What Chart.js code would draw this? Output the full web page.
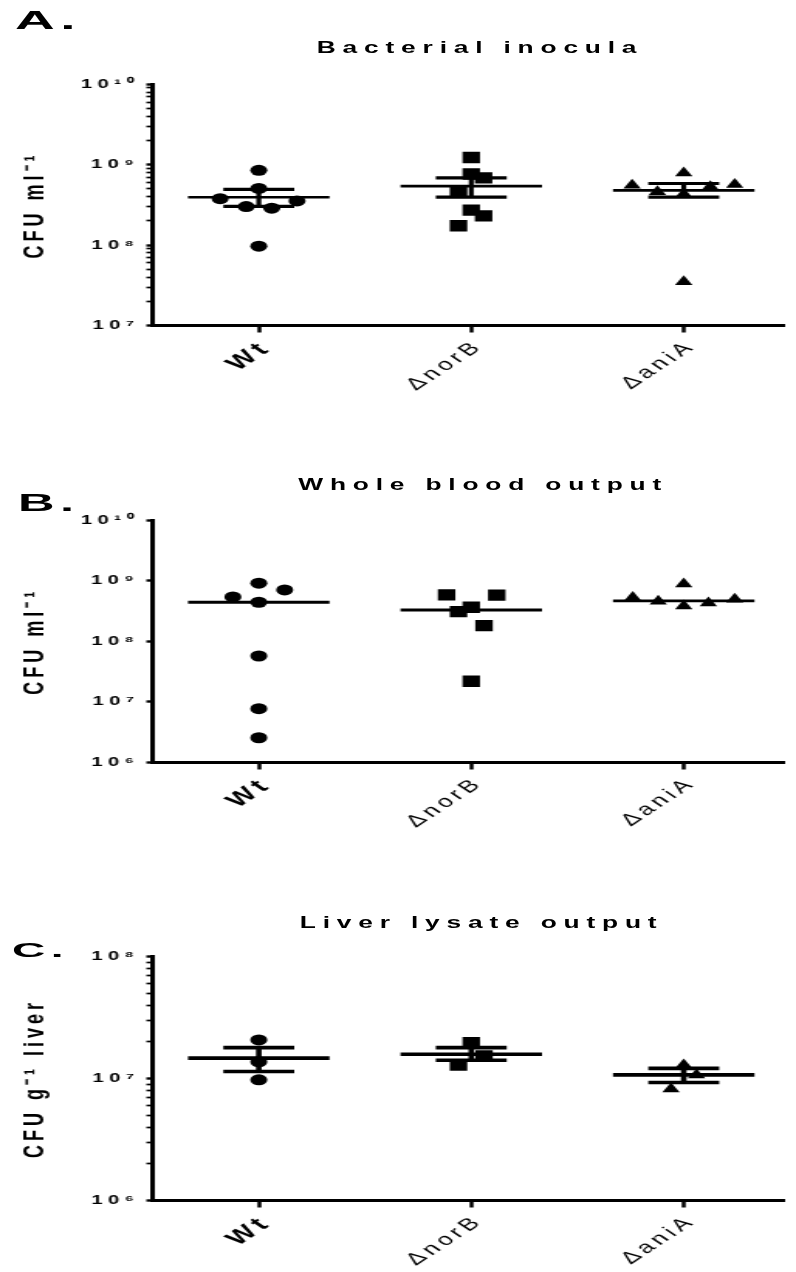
<!DOCTYPE html>
<html>
<head>
<meta charset="utf-8">
<script src="https://cdn.jsdelivr.net/npm/chart.js@4.4.1/dist/chart.umd.min.js"></script>
<style>
  html, body { margin:0; padding:0; background:#fff; }
  body { width:796px; height:1272px; position:relative; overflow:hidden; }
  #wrap { position:absolute; left:0; top:0; width:514px; height:1272px; transform:scaleX(1.5486); transform-origin:0 0; }
  #wrap canvas { position:absolute; left:0; }
  .title { position:absolute; font-family:"Liberation Sans", Arial, sans-serif; font-weight:bold; font-size:17px; line-height:17px; letter-spacing:4.4px; white-space:nowrap; color:#000; transform:translateX(-50%); }
  .panel { position:absolute; font-family:"Liberation Sans", Arial, sans-serif; font-weight:bold; color:#000; white-space:nowrap; transform-origin:0 0; transform:scaleX(2.2); letter-spacing:2.5px; }
</style>
</head>
<body>
<div id="wrap">
  <canvas id="cA" width="514" height="345" style="top:72px"></canvas>
  <canvas id="cB" width="514" height="345" style="top:505px"></canvas>
  <canvas id="cC" width="514" height="332" style="top:940px"></canvas>
  <div class="title" style="left:310px;top:39px">Bacterial inocula</div>
  <div class="title" style="left:312px;top:476px">Whole blood output</div>
  <div class="title" style="left:311px;top:914px">Liver lysate output</div>
</div>
<div class="panel" style="left:15px;top:8px;font-size:25px;line-height:25px">A.</div>
<div class="panel" style="left:18px;top:492px;font-size:23px;line-height:23px">B.</div>
<div class="panel" style="left:12px;top:939px;font-size:21px;line-height:21px">C.</div>
<script>
// ---------- data ----------
const categories = ['Wt', 'ΔnorB', 'ΔaniA'];

// Panel A: Bacterial inocula (CFU ml-1)
const aTickValues = [1e7, 1e8, 1e9, 1e10];
const aTickLabels = ['10⁷', '10⁸', '10⁹', '10¹⁰'];
const aWtValues   = [8.5e8, 5.07e8, 3.78e8, 3.01e8, 2.88e8, 3.54e8, 9.7e7];
const aWtOffsets  = [0, 0, -0.182, -0.059, 0.061, 0.180, 0];
const aNorBValues = [1.23e9, 7.66e8, 6.84e8, 4.56e8, 2.72e8, 2.31e8, 1.74e8];
const aNorBOffsets= [0, 0, 0.058, -0.06, 0, 0.058, -0.06];
const aAniAValues = [5.56e8, 4.60e8, 7.89e8, 4.28e8, 5.30e8, 5.68e8, 3.50e7];
const aAniAOffsets= [-0.243, -0.124, 0, 0, 0.125, 0.24, 0];
const aMean  = [3.93e8, 5.41e8, 4.79e8];
const aUpper = [4.92e8, 6.84e8, 5.84e8];
const aLower = [3.04e8, 3.96e8, 3.96e8];

// Panel B: Whole blood output (CFU ml-1), median lines
const bTickValues = [1e6, 1e7, 1e8, 1e9, 1e10];
const bTickLabels = ['10⁶', '10⁷', '10⁸', '10⁹', '10¹⁰'];
const bWtValues   = [9.06e8, 7.03e8, 5.38e8, 4.40e8, 5.71e7, 7.73e6, 2.56e6];
const bWtOffsets  = [0, 0.122, -0.122, 0, 0, 0, 0];
const bNorBValues = [5.81e8, 5.76e8, 3.64e8, 3.08e8, 1.81e8, 2.19e7];
const bNorBOffsets= [-0.116, 0.12, 0, -0.06, 0.06, 0];
const bAniAValues = [5.25e8, 4.57e8, 8.83e8, 3.83e8, 4.29e8, 4.93e8];
const bAniAOffsets= [-0.24, -0.12, 0, 0, 0.116, 0.24];
const bMedian = [4.40e8, 3.28e8, 4.62e8];

// Panel C: Liver lysate output (CFU g-1 liver)
const cTickValues = [1e6, 1e7, 1e8];
const cTickLabels = ['10⁶', '10⁷', '10⁸'];
const cWtValues   = [2.07e7, 1.37e7, 9.75e6];
const cWtOffsets  = [0, 0, 0];
const cNorBValues = [1.97e7, 1.53e7, 1.29e7];
const cNorBOffsets= [0, 0.06, -0.06];
const cAniAValues = [1.29e7, 1.07e7, 8.2e6];
const cAniAOffsets= [0, 0.06, -0.06];
const cMean  = [1.47e7, 1.58e7, 1.07e7];
const cUpper = [1.79e7, 1.79e7, 1.21e7];
const cLower = [1.14e7, 1.41e7, 9.27e6];

// ---------- drawing ----------
const FONT = '"Liberation Sans", Arial, sans-serif';

function withSpacing(scale, method, px) {
  const proto = Object.getPrototypeOf(scale);
  scale[method] = function (...args) {
    const c = this.ctx; const prev = c.letterSpacing;
    c.letterSpacing = px;
    proto[method].apply(this, args);
    c.letterSpacing = prev;
  };
}
const spacingPlugin = {
  id: 'spacing',
  afterUpdate(chart) {
    const x = chart.scales.x, y = chart.scales.y;
    if (y && !y._spaced) {
      y._spaced = true;
      withSpacing(y, 'drawTitle', '4px');
      withSpacing(y, 'drawLabels', '3.5px');
      withSpacing(x, 'drawLabels', '3px');
    }
  }
};

function pointsOf(ci, values, offsets) {
  return values.map((v, k) => ({ x: ci + offsets[k], y: v }));
}
function centerLines(centers, hw) {
  const d = [];
  centers.forEach((m, i) => { d.push({ x: i - hw, y: m }, { x: i + hw, y: m }, { x: i, y: null }); });
  return d;
}
function errorBars(upper, lower, hw) {
  const d = [];
  upper.forEach((u, i) => {
    const l = lower[i];
    d.push({ x: i - hw, y: u }, { x: i + hw, y: u }, { x: i, y: null },
           { x: i, y: u }, { x: i, y: l }, { x: i, y: null },
           { x: i - hw, y: l }, { x: i + hw, y: l }, { x: i, y: null });
  });
  return d;
}
function isPow10(v) { const e = Math.round(Math.log10(v)); return Math.abs(v - Math.pow(10, e)) < 1e-6 * v; }

function makeChart(id, p) {
  const styles = ['circle', 'rect', 'triangle'];
  const radii = [5.5, 8, 6.5];
  const datasets = [];
  p.groups.forEach((g, i) => datasets.push({
    data: pointsOf(i, g[0], g[1]), pointStyle: styles[i], pointRadius: radii[i], pointHoverRadius: radii[i],
    pointBackgroundColor: '#000', pointBorderColor: '#000', pointBorderWidth: 0, showLine: false
  }));
  datasets.push({ data: centerLines(p.center, 0.333), showLine: true, borderColor: '#000', borderWidth: p.meanWidth,
    pointRadius: 0, pointHoverRadius: 0, spanGaps: false });
  if (p.upper) datasets.push({ data: errorBars(p.upper, p.lower, 0.167), showLine: true, borderColor: '#000',
    borderWidth: p.errWidth, pointRadius: 0, pointHoverRadius: 0, spanGaps: false });

  const minExp = Math.round(Math.log10(p.tickValues[0]));
  const maxExp = Math.round(Math.log10(p.tickValues[p.tickValues.length - 1]));

  new Chart(document.getElementById(id), {
    type: 'scatter',
    data: { datasets },
    options: {
      responsive: false, animation: false, devicePixelRatio: 1, events: [],
      layout: { padding: { top: p.padTop, right: 0, bottom: 0, left: 0 } },
      plugins: { legend: { display: false }, tooltip: { enabled: false }, title: { display: false } },
      scales: {
        x: {
          type: 'linear', min: -0.5, max: 2.47, bounds: 'data',
          afterBuildTicks: s => { s.ticks = categories.map((c, i) => ({ value: i })); },
          afterFit: s => { s.height = p.xHeight; },
          ticks: {
            autoSkip: false, minRotation: 45, maxRotation: 45, padding: 4, labelOffset: 5, color: '#000',
            callback: v => categories[v],
            font: c => c.index === 0 ? { size: 20, weight: 'bold', family: FONT } : { size: 17, weight: 'normal', family: FONT }
          },
          grid: { display: true, drawOnChartArea: false, drawTicks: true, tickLength: 7, tickWidth: 2.5, tickColor: '#000' },
          border: { display: true, width: 3, color: '#000' }
        },
        y: {
          type: 'logarithmic', min: p.tickValues[0], max: p.tickValues[p.tickValues.length - 1],
          afterBuildTicks: s => {
            const t = [];
            for (let e = minExp; e <= maxExp; e++) {
              t.push({ value: Math.pow(10, e), major: true });
              if (p.minor && e < maxExp) for (let m = 2; m <= 9; m++) t.push({ value: m * Math.pow(10, e), major: false });
            }
            s.ticks = t;
          },
          afterFit: s => { s.width = 98.5; },
          ticks: {
            autoSkip: false, padding: 4.5, color: '#000',
            font: { size: 13, weight: 'bold', family: FONT },
            callback: v => {
              if (!isPow10(v)) return '';
              const k = p.tickValues.findIndex(t => Math.abs(t - v) < 1e-6 * v);
              return k >= 0 ? p.tickLabels[k] : '';
            }
          },
          grid: { display: true, drawOnChartArea: false, drawTicks: true, tickLength: 4,
            tickWidth: c => (c.tick && c.tick.major) ? 2.4 : 1.7, tickColor: '#000' },
          border: { display: true, width: 3, color: '#000' },
          title: { display: true, text: p.yTitle, color: '#000', font: { size: 18, weight: 'bold', family: FONT },
            padding: { top: 12.5, bottom: 0 } }
        }
      }
    },
    plugins: [spacingPlugin]
  });
}

makeChart('cA', {
  groups: [[aWtValues, aWtOffsets], [aNorBValues, aNorBOffsets], [aAniAValues, aAniAOffsets]],
  center: aMean, upper: aUpper, lower: aLower, meanWidth: 2.6, errWidth: 3.2,
  tickValues: aTickValues, tickLabels: aTickLabels, minor: true,
  padTop: 10, xHeight: 91.5, yTitle: 'CFU ml⁻¹'
});
makeChart('cB', {
  groups: [[bWtValues, bWtOffsets], [bNorBValues, bNorBOffsets], [bAniAValues, bAniAOffsets]],
  center: bMedian, meanWidth: 2.8,
  tickValues: bTickValues, tickLabels: bTickLabels, minor: false,
  padTop: 15, xHeight: 87.5, yTitle: 'CFU ml⁻¹'
});
makeChart('cC', {
  groups: [[cWtValues, cWtOffsets], [cNorBValues, cNorBOffsets], [cAniAValues, cAniAOffsets]],
  center: cMean, upper: cUpper, lower: cLower, meanWidth: 3.6, errWidth: 3.6,
  tickValues: cTickValues, tickLabels: cTickLabels, minor: true,
  padTop: 16.5, xHeight: 71.5, yTitle: 'CFU g⁻¹ liver'
});
</script>
</body>
</html>
